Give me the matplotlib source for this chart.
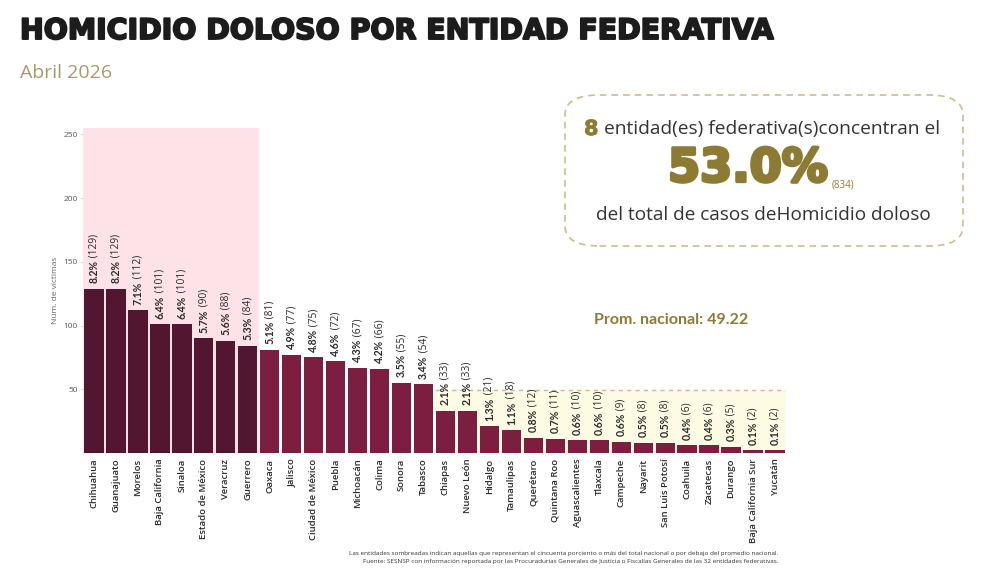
import matplotlib
matplotlib.use("Agg")
import matplotlib.pyplot as plt
from matplotlib.patches import FancyBboxPatch, Rectangle
import matplotlib.patheffects as pe

states = ["Chihuahua", "Guanajuato", "Morelos", "Baja California", "Sinaloa",
          "Estado de México", "Veracruz", "Guerrero", "Oaxaca", "Jalisco",
          "Ciudad de México", "Puebla", "Michoacán", "Colima", "Sonora", "Tabasco",
          "Chiapas", "Nuevo León", "Hidalgo", "Tamaulipas", "Querétaro",
          "Quintana Roo", "Aguascalientes", "Tlaxcala", "Campeche", "Nayarit",
          "San Luis Potosí", "Coahuila", "Zacatecas", "Durango",
          "Baja California Sur", "Yucatán"]
victims = [129, 129, 112, 101, 101, 90, 88, 84, 81, 77, 75, 72, 67, 66, 55, 54,
           33, 33, 21, 18, 12, 11, 10, 10, 9, 8, 8, 6, 6, 5, 2, 2]
pcts = ["8.2%", "8.2%", "7.1%", "6.4%", "6.4%", "5.7%", "5.6%", "5.3%", "5.1%",
        "4.9%", "4.8%", "4.6%", "4.3%", "4.2%", "3.5%", "3.4%", "2.1%", "2.1%",
        "1.3%", "1.1%", "0.8%", "0.7%", "0.6%", "0.6%", "0.6%", "0.5%", "0.5%",
        "0.4%", "0.4%", "0.3%", "0.1%", "0.1%"]
n_top = 8
national_avg = 49.22
top_share = "53.0%"
top_cases = "(834)"
yticks = [50, 100, 150, 200, 250]

DARK = "#531631"
LIGHT = "#7c1e40"
GOLD = "#8d7b33"
TXT = "#2b2b2b"
W, H = 986, 572

fig = plt.figure(figsize=(9.86, 5.72), dpi=100)
fig.patch.set_facecolor("white")
renderer = fig.canvas.get_renderer()
ax = fig.add_axes([83/W, 1-453/H, (786-83)/W, (453-128)/H])

x = list(range(len(states)))
colors = [DARK if i < n_top else LIGHT for i in x]
ax.set_xlim(-0.5, len(states)-0.5)
ax.set_ylim(0, 255)

ax.axvspan(-0.5, n_top-0.5, color="#fde3e7", zorder=0, lw=0)
first_below = next(i for i, v in enumerate(victims) if v < national_avg)
ax.add_patch(Rectangle((first_below-0.5, 0), len(states)-first_below, national_avg,
                       facecolor="#fefbe4", edgecolor="none", zorder=0))
ax.plot([first_below-0.5, len(states)-0.5], [national_avg, national_avg],
        ls=(0, (3, 3)), color="#c8bd86", lw=1.0, zorder=1)

ax.bar(x, victims, width=0.88, color=colors, zorder=2)

for i, (v, p) in enumerate(zip(victims, pcts)):
    t = ax.annotate(p, xy=(i, v), xytext=(0, 4), textcoords="offset points",
                    rotation=90, ha="center", va="bottom", fontsize=7.6,
                    fontweight="bold", color=TXT, family="Lato", zorder=3)
    ax.annotate(f" ({v})", xy=(0.5, 1), xycoords=t, rotation=90,
                ha="center", va="bottom", fontsize=7.4, color=TXT,
                family="Open Sans", zorder=3, annotation_clip=False)

ax.set_xticks(x)
ax.set_xticklabels(states, rotation=90, fontsize=6.8, color=TXT,
                   family="Open Sans", fontweight="semibold")
ax.set_yticks(yticks)
ax.set_yticklabels([str(t) for t in yticks], fontsize=6, color="#555555",
                   family="Open Sans")
ax.tick_params(axis="x", length=0, pad=4)
ax.tick_params(axis="y", length=2, color="#dddddd", pad=2)
for s in ax.spines.values():
    s.set_visible(False)
ax.set_ylabel("Núm. de víctimas", fontsize=6, color="#666666",
              family="Open Sans", labelpad=3)

# Title
title = fig.text(20/W, 1-31/H, "HOMICIDIO DOLOSO POR ENTIDAD FEDERATIVA",
                 fontsize=18, fontweight="bold", family="DejaVu Sans",
                 color="#1c1c1c", ha="left", va="center",
                 path_effects=[pe.withStroke(linewidth=1.4, foreground="#1c1c1c")])
tw = title.get_window_extent(renderer).width
title.set_fontsize(18 * (752 / tw))
fig.text(20/W, 1-73/H, "Abril 2026", fontsize=14, family="Open Sans",
         color="#a89a6c", ha="left", va="center")

# Summary box
box = FancyBboxPatch((565/W, 1-246/H), (963-565)/W, (246-95)/H,
                     boxstyle="round,pad=0,rounding_size=0.035",
                     transform=fig.transFigure, facecolor="white",
                     edgecolor="#cbbd8e", lw=1.2, ls=(0, (4, 3)))
fig.patches.append(box)

t8 = fig.text(584/W, 1-129/H, f"{n_top}", fontsize=15, fontweight="bold",
              family="DejaVu Sans", color=GOLD, ha="left", va="center",
              path_effects=[pe.withStroke(linewidth=0.6, foreground=GOLD)])
w8 = t8.get_window_extent(renderer).width
fig.text((584 + w8 + 5)/W, 1-129/H, "entidad(es) federativa(s)concentran el",
         fontsize=13.8, family="Open Sans", color="#333333", ha="left",
         va="center")

big = fig.text(668/W, 1-169/H, top_share, fontsize=34, fontweight="bold",
               family="DejaVu Sans", color=GOLD, ha="left", va="center",
               path_effects=[pe.withStroke(linewidth=2.4, foreground=GOLD)])
bw = big.get_window_extent(renderer).width
big.set_fontsize(34 * (160 / bw))
bb = big.get_window_extent(renderer)
fig.text((bb.x1 + 3)/W, 1-185/H, top_cases, fontsize=7, family="Open Sans",
         color=GOLD, ha="left", va="center")
fig.text(763/W, 1-215/H, "del total de casos deHomicidio doloso",
         fontsize=13.7, family="Open Sans", color="#333333", ha="center",
         va="center")

fig.text(671/W, 1-320/H, f"Prom. nacional: {national_avg:.2f}",
         fontsize=11.5, fontweight="bold", family="Lato", color=GOLD,
         ha="center", va="center")

fig.text(778/W, 1-553/H,
         "Las entidades sombreadas indican aquellas que representan el cincuenta porciento o más del total nacional o por debajo del promedio nacional.",
         fontsize=4.6, family="Open Sans", color="#333333", ha="right", va="center")
fig.text(778/W, 1-562/H,
         "Fuente: SESNSP con información reportada por las Procuradurías Generales de Justicia o Fiscalías Generales de las 32 entidades federativas.",
         fontsize=4.6, family="Open Sans", color="#333333", ha="right", va="center")

fig.savefig("out.png", dpi=100, facecolor="white")
